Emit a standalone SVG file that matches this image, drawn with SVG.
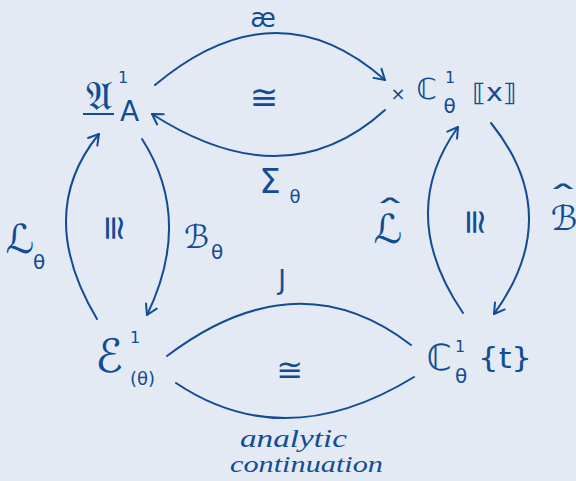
<svg xmlns="http://www.w3.org/2000/svg" width="576" height="481" viewBox="0 0 576 481">
<defs>
<style>
.bg{fill:#e3eaf4}
.t{fill:#124c95;font-family:"DejaVu Sans","Noto Sans","Liberation Sans",sans-serif}
.h{fill:#124c95;font-family:"Liberation Serif",serif;font-style:italic}
.c{fill:none;stroke:#124c95;stroke-width:2;stroke-linecap:round}
</style>
<marker id="ah" markerUnits="userSpaceOnUse" viewBox="-12 -8 14 16" refX="0" refY="0" markerWidth="14" markerHeight="16" orient="auto" overflow="visible">
<path d="M-10,-6 L0,0 L-10,6" fill="none" stroke="#124c95" stroke-width="2" stroke-linecap="round" stroke-linejoin="round"/>
</marker>
</defs>
<rect class="bg" x="0" y="0" width="576" height="481"/>

<g id="nodeA">
<text class="t" x="99" y="110" font-size="40" text-anchor="middle">𝔄</text>
<line x1="83" y1="114" x2="114" y2="114" stroke="#124c95" stroke-width="2"/>
<text class="t" x="123" y="83" font-size="16" text-anchor="middle">1</text>
<text class="t" x="129.5" y="121" font-size="28" text-anchor="middle">A</text>
</g>

<g id="nodeCx">
<text class="t" x="398" y="100" font-size="18" text-anchor="middle">×</text>
<text class="t" x="426.5" y="99" font-size="29" text-anchor="middle">ℂ</text>
<text class="t" x="450" y="83" font-size="16" text-anchor="middle">1</text>
<text class="t" x="449.5" y="113" font-size="20" text-anchor="middle">θ</text>
<text class="t" x="472" y="101" font-size="24" textLength="45" lengthAdjust="spacingAndGlyphs">⟦x⟧</text>
</g>

<g id="nodeE">
<text class="t" x="109" y="372" font-size="46" text-anchor="middle">ℰ</text>
<text class="t" x="135" y="343" font-size="16" text-anchor="middle">1</text>
<text class="t" x="142.5" y="385" font-size="18" text-anchor="middle">(θ)</text>
</g>

<g id="nodeCt">
<text class="t" x="439" y="370" font-size="36" text-anchor="middle">ℂ</text>
<text class="t" x="460" y="352" font-size="16" text-anchor="middle">1</text>
<text class="t" x="461" y="383" font-size="20" text-anchor="middle">θ</text>
<text class="t" x="478" y="368" font-size="28" textLength="54" lengthAdjust="spacingAndGlyphs">{t}</text>
</g>

<g id="connectors">
<path class="c" d="M155,85 Q276,-16.5 385,80" marker-end="url(#ah)"/>
<path class="c" d="M385,110 Q285.5,200 152,114" marker-end="url(#ah)"/>
<path class="c" d="M97,319 Q34,213.5 99,134" marker-end="url(#ah)"/>
<path class="c" d="M142,139 Q193.5,219 147,315" marker-end="url(#ah)"/>
<path class="c" d="M463,313 Q395.5,214 458,127" marker-end="url(#ah)"/>
<path class="c" d="M491,123 Q565.5,215.5 494,314" marker-end="url(#ah)"/>
<path class="c" d="M167,356 Q297,257.5 411,345"/>
<path class="c" d="M176,383 Q285,456 414,377"/>
</g>

<g id="labels">
<text class="t" x="263" y="27" font-size="26" text-anchor="middle">æ</text>
<text class="t" x="264" y="109" font-size="34" text-anchor="middle">≅</text>
<text class="t" x="270" y="193" font-size="34" text-anchor="middle">Σ</text>
<text class="t" x="295" y="203" font-size="18" text-anchor="middle">θ</text>
<text class="t" x="20" y="253" font-size="40" text-anchor="middle">ℒ</text>
<text class="t" x="39" y="269" font-size="20" text-anchor="middle">θ</text>
<text class="t" x="196.5" y="248" font-size="32" text-anchor="middle">ℬ</text>
<text class="t" x="217" y="259" font-size="20" text-anchor="middle">θ</text>
<text class="t" font-size="34" text-anchor="middle" dy="0.4em" transform="translate(117,228) rotate(90)">≅</text>
<text class="t" font-size="34" text-anchor="middle" dy="0.4em" transform="translate(478,222) rotate(90)">≅</text>
<text class="t" x="388" y="243" font-size="40" text-anchor="middle">ℒ</text>
<text class="t" font-size="30" text-anchor="middle" transform="translate(390,222) scale(2.2,1)">ˆ</text>
<text class="t" x="564" y="230" font-size="34" text-anchor="middle">ℬ</text>
<text class="t" font-size="30" text-anchor="middle" transform="translate(563,208) scale(2.2,1)">ˆ</text>
<text class="t" x="282" y="289" font-size="26" text-anchor="middle">J</text>
<text class="t" x="290" y="381" font-size="32" text-anchor="middle">≅</text>
<text class="h" x="240" y="447" font-size="26" textLength="107" lengthAdjust="spacingAndGlyphs">analytic</text>
<text class="h" x="230" y="472" font-size="23" textLength="153" lengthAdjust="spacingAndGlyphs">continuation</text>
</g>
</svg>
